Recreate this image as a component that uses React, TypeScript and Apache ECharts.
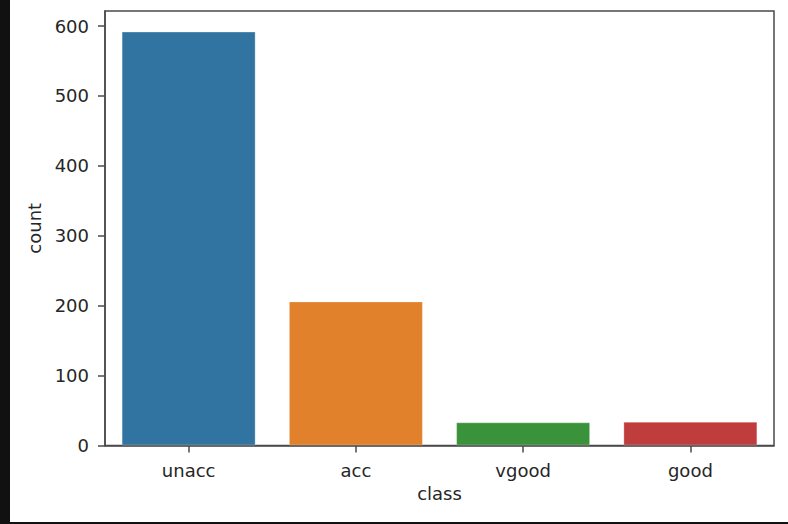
import React, { useEffect, useRef } from "react";
import * as echarts from "echarts";

const categories = ["unacc", "acc", "vgood", "good"];
const counts = [592, 206, 33, 34];
const barColors = ["#3274A1", "#E1812C", "#3A923A", "#C03D3E"];
const yTicks = [0, 100, 200, 300, 400, 500, 600];
const yMax = 621.6;

export default function App() {
  const ref = useRef<HTMLDivElement>(null);
  useEffect(() => {
    if (!ref.current) return;
    const chart = echarts.init(ref.current, undefined, { renderer: "svg" });
    const font = "DejaVu Sans";
    const textColor = "#262626";
    const spine = "#4a4a4a";
    chart.setOption({
      animation: false,
      backgroundColor: "#ffffff",
      graphic: [
        { type: "rect", shape: { x: 0, y: 0, width: 10, height: 524 }, style: { fill: "#111111" }, z: 100 },
        { type: "rect", shape: { x: 0, y: 522, width: 788, height: 2 }, style: { fill: "#111111" }, z: 100 },
      ],
      grid: {
        left: 105,
        right: 14,
        top: 11,
        bottom: 78.5,
        show: true,
        borderColor: spine,
        borderWidth: 1.5,
        backgroundColor: "transparent",
      },
      xAxis: {
        type: "category",
        data: categories,
        name: "class",
        nameLocation: "middle",
        nameGap: 38,
        nameTextStyle: { fontFamily: font, fontSize: 18, color: textColor },
        axisLine: { show: true, lineStyle: { color: spine, width: 1.5 } },
        axisTick: { show: true, alignWithLabel: true, length: 7, lineStyle: { color: spine, width: 1.5 } },
        axisLabel: { fontFamily: font, fontSize: 18, color: textColor, margin: 16 },
        splitLine: { show: false },
      },
      yAxis: {
        type: "value",
        min: 0,
        max: yMax,
        interval: 100,
        name: "count",
        nameLocation: "middle",
        nameGap: 62,
        nameRotate: 90,
        nameTextStyle: { fontFamily: font, fontSize: 18, color: textColor },
        axisLine: { show: true, lineStyle: { color: spine, width: 1.5 } },
        axisTick: { show: true, length: 7, lineStyle: { color: spine, width: 1.5 }, customValues: yTicks },
        axisLabel: { fontFamily: font, fontSize: 18, color: textColor, margin: 16, customValues: yTicks },
        splitLine: { show: false },
      },
      series: [
        {
          type: "bar",
          data: counts.map((v, i) => ({
            value: v,
            itemStyle: { color: barColors[i] },
          })),
          barCategoryGap: "20%",
          itemStyle: { borderColor: "rgba(255,255,255,0.35)", borderWidth: 0.8 },
        },
      ],
    });
    return () => chart.dispose();
  }, []);
  return (
    <div
      ref={ref}
      style={{ position: "absolute", left: 0, top: 0, width: 788, height: 524 }}
    />
  );
}
